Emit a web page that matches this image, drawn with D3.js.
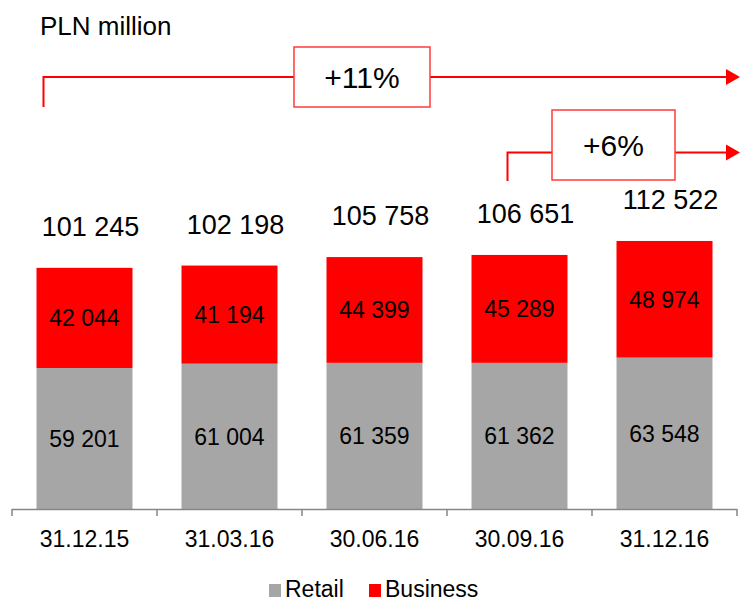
<!DOCTYPE html>
<html>
<head>
<meta charset="utf-8">
<script src="https://cdnjs.cloudflare.com/ajax/libs/d3/7.8.5/d3.min.js"></script>
<style>
  html, body { margin: 0; padding: 0; background: #fff; }
  svg { display: block; font-family: 'Liberation Sans', Arial, sans-serif; }
</style>
</head>
<body>
<div id="chart-container"></div>
<script>
(function () {
    'use strict';

    var categories = ['31.12.15', '31.03.16', '30.06.16', '30.09.16', '31.12.16'];
    var retail = [59201, 61004, 61359, 61362, 63548];
    var business = [42044, 41194, 44399, 45289, 48974];
    var totals = [101245, 102198, 105758, 106651, 112522];
    var seriesNames = ['Retail', 'Business'];
    var growthLabels = ['+11%', '+6%'];

    var width = 740;
    var height = 602;
    var grey = '#a6a6a6';
    var red = '#ff0000';

    var fmt = function (v) {
        return d3.format(',')(v).replace(/,/g, ' ');
    };

    var svg = d3.select('#chart-container')
        .append('svg')
        .attr('width', width)
        .attr('height', height);

    var x = d3.scaleBand()
        .domain(categories)
        .range([12, 737])
        .paddingInner(0.338)
        .paddingOuter(0.169);

    var y = d3.scaleLinear()
        .domain([0, 120000])
        .range([509, 509 - 120000 * 0.002382]);

    var color = d3.scaleOrdinal()
        .domain(seriesNames)
        .range([grey, red]);

    // title
    svg.append('text')
        .attr('x', 40)
        .attr('y', 35)
        .style('font-size', '26px')
        .text('PLN million');

    // stacked bars
    var rows = categories.map(function (c, i) {
        return { cat: c, Retail: retail[i], Business: business[i], total: totals[i] };
    });
    var stack = d3.stack().keys(seriesNames)(rows);

    var layers = svg.append('g')
        .selectAll('g')
        .data(stack)
        .enter()
        .append('g')
        .attr('fill', function (d) { return color(d.key); });

    layers.selectAll('rect')
        .data(function (d) { return d; })
        .enter()
        .append('rect')
        .attr('x', function (d) { return x(d.data.cat); })
        .attr('y', function (d) { return y(d[1]); })
        .attr('width', x.bandwidth())
        .attr('height', function (d) { return y(d[0]) - y(d[1]); });

    layers.selectAll('text')
        .data(function (d) { return d; })
        .enter()
        .append('text')
        .attr('x', function (d) { return x(d.data.cat) + x.bandwidth() / 2; })
        .attr('y', function (d) { return (y(d[0]) + y(d[1])) / 2; })
        .attr('dy', '0.36em')
        .attr('text-anchor', 'middle')
        .attr('fill', '#000')
        .style('font-size', '23px')
        .text(function (d) { return fmt(d[1] - d[0]); });

    // totals
    svg.append('g')
        .selectAll('text')
        .data(rows)
        .enter()
        .append('text')
        .attr('x', function (d) { return x(d.cat) + x.bandwidth() / 2 + 6; })
        .attr('y', function (d) { return y(d.total) - 32; })
        .attr('text-anchor', 'middle')
        .style('font-size', '27px')
        .text(function (d) { return fmt(d.total); });

    // x axis
    var axis = svg.append('g').attr('class', 'axis');
    var half = x.step() * x.paddingInner() / 2;
    axis.append('line')
        .attr('x1', 12).attr('x2', 737)
        .attr('y1', y(0) + 0.5).attr('y2', y(0) + 0.5)
        .attr('stroke', '#868686')
        .attr('stroke-width', 1.5);
    var bounds = categories.map(function (c) { return x(c) - half; });
    bounds.push(x(categories[categories.length - 1]) + x.bandwidth() + half);
    axis.selectAll('line.tick')
        .data(bounds)
        .enter()
        .append('line')
        .attr('class', 'tick')
        .attr('x1', function (d) { return d; })
        .attr('x2', function (d) { return d; })
        .attr('y1', y(0))
        .attr('y2', y(0) + 7)
        .attr('stroke', '#868686')
        .attr('stroke-width', 1.5);
    axis.selectAll('text')
        .data(categories)
        .enter()
        .append('text')
        .attr('x', function (d) { return x(d) + x.bandwidth() / 2; })
        .attr('y', 547)
        .attr('text-anchor', 'middle')
        .style('font-size', '23px')
        .text(function (d) { return d; });

    // growth arrows
    var arrows = [
        { label: growthLabels[0], x0: x(categories[0]) + 7, yTop: 77, yBot: 107, bx: 294, bw: 136, by: 47, bh: 60 },
        { label: growthLabels[1], x0: x(categories[3]) + 36, yTop: 152.5, yBot: 181, bx: 552, bw: 123, by: 110, bh: 70 }
    ];
    var ag = svg.append('g')
        .selectAll('g')
        .data(arrows)
        .enter()
        .append('g');
    ag.append('path')
        .attr('d', function (d) {
            return 'M' + d.x0 + ',' + d.yBot + 'V' + d.yTop + 'H727';
        })
        .attr('fill', 'none')
        .attr('stroke', red)
        .attr('stroke-width', 2);
    ag.append('path')
        .attr('d', function (d) {
            return 'M726,' + (d.yTop - 8) + 'L740,' + d.yTop + 'L726,' + (d.yTop + 8) + 'Z';
        })
        .attr('fill', red);
    ag.append('rect')
        .attr('x', function (d) { return d.bx; })
        .attr('y', function (d) { return d.by; })
        .attr('width', function (d) { return d.bw; })
        .attr('height', function (d) { return d.bh; })
        .attr('fill', '#fff')
        .attr('stroke', '#ff3b3b')
        .attr('stroke-width', 1.5);
    ag.append('text')
        .attr('x', function (d) { return d.bx + d.bw / 2; })
        .attr('y', function (d) { return d.by + d.bh / 2; })
        .attr('dy', '0.36em')
        .attr('text-anchor', 'middle')
        .style('font-size', '30px')
        .text(function (d) { return d.label; });

    // legend
    var legend = svg.append('g')
        .selectAll('g')
        .data(seriesNames)
        .enter()
        .append('g')
        .attr('transform', function (d, i) { return 'translate(' + [269, 369][i] + ',0)'; });
    legend.append('rect')
        .attr('x', 0)
        .attr('y', 584)
        .attr('width', 12)
        .attr('height', 13)
        .attr('fill', function (d) { return color(d); });
    legend.append('text')
        .attr('x', 16)
        .attr('y', 597)
        .style('font-size', '23px')
        .text(function (d) { return d; });
}());
</script>
</body>
</html>
